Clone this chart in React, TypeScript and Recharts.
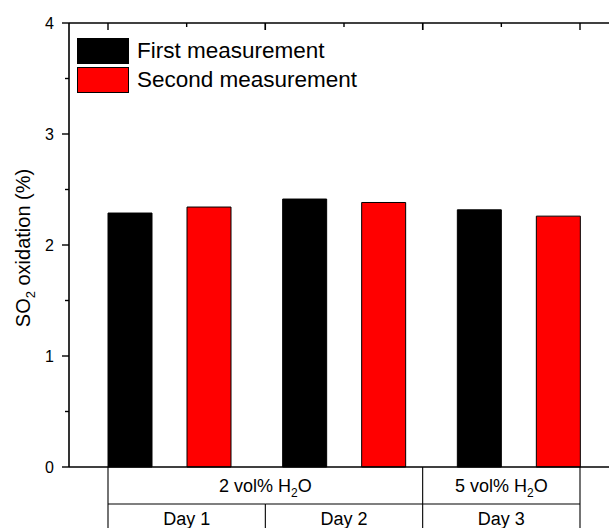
import { ComposedChart, Bar, XAxis, YAxis, Legend, Customized } from "recharts";

const days = ["Day 1", "Day 2", "Day 3"];
const firstMeasurement = [2.288, 2.414, 2.317];
const secondMeasurement = [2.342, 2.383, 2.26];
const yTicks = [0, 0.5, 1, 1.5, 2, 2.5, 3, 3.5, 4];
// water content rows of the table under the axis, as day index ranges
const groups = [
  { label: "2 vol% H", sub: "2", tail: "O", from: 0, to: 2 },
  { label: "5 vol% H", sub: "2", tail: "O", from: 2, to: 3 },
];

const FONT = "'Liberation Sans', Arial, sans-serif";
const W = 640;
const H = 528;
const M = { top: 23, right: 21, bottom: 0, left: 0 };
const Y_W = 69;
const TBL_H = 61;
const PLOT_W = W - M.left - M.right - Y_W;
const PLOT_H = H - M.top - M.bottom - TBL_H;
const TABLE_PAD = 39;
const CELL = (PLOT_W - 2 * TABLE_PAD) / days.length;
const ROW = 37;

const data = days.map((d, i) => ({
  day: d,
  first: firstMeasurement[i],
  second: secondMeasurement[i],
}));

// eslint-disable-next-line @typescript-eslint/no-explicit-any
function YTick({ x, y, payload }: any) {
  const major = Number.isInteger(payload.value);
  const len = major ? 7 : 4;
  return (
    <g>
      <line x1={x - len} x2={x} y1={y} y2={y} stroke="#000" strokeWidth={1.4} />
      {major && (
        <text x={x - 15} y={y} dy="0.36em" textAnchor="end" fontSize={16} fontFamily={FONT} fill="#000">
          {payload.value}
        </text>
      )}
    </g>
  );
}

// top frame line with ticks pointing down: major at cell edges, minor at centres
function TopFrame() {
  const left = M.left + Y_W;
  const top = M.top;
  const s = { stroke: "#000", strokeWidth: 1.4 };
  return (
    <g>
      <line x1={left} x2={left + PLOT_W} y1={top} y2={top} stroke="#000" strokeWidth={1.6} />
      {days.map((d, i) => {
        const x0 = left + TABLE_PAD + i * CELL;
        return (
          <g key={d}>
            <line x1={x0} x2={x0} y1={top} y2={top + 7} {...s} />
            <line x1={x0 + CELL / 2} x2={x0 + CELL / 2} y1={top} y2={top + 4} {...s} />
            <line x1={x0 + CELL} x2={x0 + CELL} y1={top} y2={top + 7} {...s} />
          </g>
        );
      })}
    </g>
  );
}

function H2OText({ x, y, g }: { x: number; y: number; g: (typeof groups)[number] }) {
  return (
    <text x={x} y={y} textAnchor="middle" fontSize={18} fontFamily={FONT} fill="#000">
      {g.label}
      <tspan fontSize={12} dy={5}>{g.sub}</tspan>
      <tspan dy={-5}>{g.tail}</tspan>
    </text>
  );
}

// one cell of the condition table below the axis
// eslint-disable-next-line @typescript-eslint/no-explicit-any
function TableTick({ x, y, index }: any) {
  const line = { stroke: "#000", strokeWidth: 1.1 };
  const left = x - CELL / 2;
  const right = x + CELL / 2;
  const edge = (i: number) => groups.some((g) => g.from === i || g.to === i);
  return (
    <g>
      <line x1={left} x2={left} y1={edge(index) ? y : y + ROW} y2={y + 2 * ROW} {...line} />
      {index === days.length - 1 && (
        <line x1={right} x2={right} y1={edge(index + 1) ? y : y + ROW} y2={y + 2 * ROW} {...line} />
      )}
      <line x1={left} x2={right} y1={y + ROW} y2={y + ROW} {...line} />
      <text x={x} y={y + 58} textAnchor="middle" fontSize={18} fontFamily={FONT} fill="#000">
        {days[index]}
      </text>
      {groups
        .filter((g) => g.from === index)
        .map((g) => (
          <H2OText key={g.label + g.from} x={left + ((g.to - g.from) * CELL) / 2} y={y + 25} g={g} />
        ))}
    </g>
  );
}

// eslint-disable-next-line @typescript-eslint/no-explicit-any
function YLabel({ viewBox }: any) {
  const bx = viewBox.x + 30;
  const cy = viewBox.y + viewBox.height / 2 + 3;
  return (
    <text x={bx} y={cy} transform={`rotate(-90 ${bx} ${cy})`} textAnchor="middle" fontSize={20} fontFamily={FONT} fill="#000">
      SO
      <tspan fontSize={13} dy={5}>2</tspan>
      <tspan dy={-5}> oxidation (%)</tspan>
    </text>
  );
}

// eslint-disable-next-line @typescript-eslint/no-explicit-any
function LegendBox({ payload }: any) {
  return (
    <div style={{ fontFamily: FONT, fontSize: 22.5, color: "#000" }}>
      {(payload ?? []).map((p: { value: string; color: string }) => (
        <div key={p.value} style={{ display: "flex", alignItems: "center", height: 29 }}>
          <span
            style={{
              display: "inline-block",
              width: 50,
              height: 24,
              background: p.color,
              border: "1px solid #000",
              marginRight: 8,
            }}
          />
          <span style={{ lineHeight: "29px" }}>{p.value}</span>
        </div>
      ))}
    </div>
  );
}

export default function App() {
  return (
    <div style={{ position: "absolute", left: 0, top: 0, width: 609, height: 528, overflow: "hidden", background: "#fff" }}>
      <ComposedChart width={W} height={H} data={data} margin={M} barGap={35}>
        <XAxis
          xAxisId="tbl"
          dataKey="day"
          type="category"
          interval={0}
          height={TBL_H}
          padding={{ left: TABLE_PAD, right: TABLE_PAD }}
          axisLine={{ stroke: "#000", strokeWidth: 1.6 }}
          tickLine={false}
          tickSize={0}
          tickMargin={0}
          tick={<TableTick />}
        />
        <XAxis xAxisId="cat" dataKey="day" type="category" hide height={0} padding={{ left: 13, right: 13 }} />
        <YAxis
          domain={[0, 4]}
          ticks={yTicks}
          interval={0}
          width={Y_W}
          axisLine={{ stroke: "#000", strokeWidth: 1.6 }}
          tickLine={false}
          tickSize={0}
          tickMargin={0}
          tick={<YTick />}
          label={{ content: <YLabel /> }}
        />
        <Legend
          layout="horizontal"
          align="center"
          verticalAlign="middle"
          wrapperStyle={{ left: 77, top: 36, width: "auto" }}
          content={<LegendBox />}
        />
        <Bar xAxisId="cat" dataKey="first" name="First measurement" fill="#000000" stroke="#000" strokeWidth={1} barSize={44} isAnimationActive={false} />
        <Bar xAxisId="cat" dataKey="second" name="Second measurement" fill="#ff0000" stroke="#000" strokeWidth={1} barSize={44} isAnimationActive={false} />
        <Customized component={<TopFrame />} />
      </ComposedChart>
    </div>
  );
}
